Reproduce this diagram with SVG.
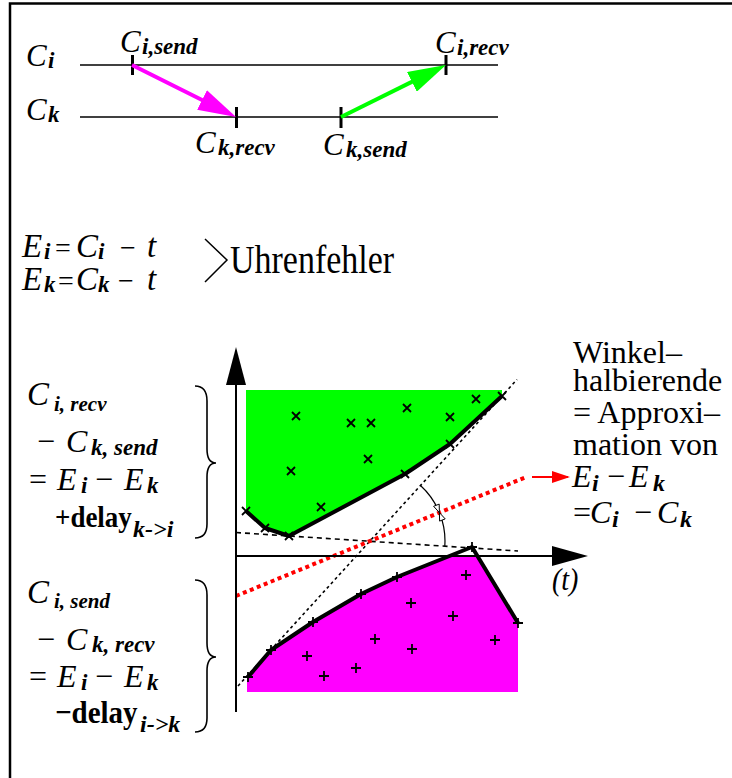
<svg xmlns="http://www.w3.org/2000/svg" width="732" height="778" viewBox="0 0 732 778">
<defs>
<style>
text{font-family:"Liberation Serif","Times New Roman",serif;fill:#000}
.it{font-style:italic}
.bi{font-style:italic;font-weight:bold}
.b{font-weight:bold}
.op{font-size:28px}
.tl{stroke:#000;stroke-width:1.6;fill:none}
.tick{stroke:#000;stroke-width:3}
.hull{fill:none;stroke:#000;stroke-width:4;stroke-linejoin:round}
.mk{fill:none;stroke:#000;stroke-width:1.8}
.dash1{fill:none;stroke:#000;stroke-width:1.6;stroke-dasharray:5 4}
.dash2{fill:none;stroke:#000;stroke-width:1.6;stroke-dasharray:3 3}
.brace{fill:none;stroke:#000;stroke-width:1.6}
.ax{stroke:#000;stroke-width:2;fill:none}
</style>
<marker id="hm" markerUnits="userSpaceOnUse" markerWidth="38" markerHeight="22" viewBox="0 0 38 22" refX="28" refY="11" orient="auto"><path d="M0,0L38,11L0,22Z" fill="#ff00ff"/></marker>
<marker id="hg" markerUnits="userSpaceOnUse" markerWidth="38" markerHeight="22" viewBox="0 0 38 22" refX="28" refY="11" orient="auto"><path d="M0,0L38,11L0,22Z" fill="#00ff00"/></marker>
<marker id="hr" markerUnits="userSpaceOnUse" markerWidth="18" markerHeight="12" viewBox="0 0 18 12" refX="16" refY="6" orient="auto"><path d="M0,0L18,6L0,12Z" fill="#ff0000"/></marker>
<path id="x" d="M-4,-4L4,4M4,-4L-4,4"/>
<path id="p" d="M-5,0H5M0,-5V5"/>
</defs>
<rect width="732" height="778" fill="#fff"/>
<g id="frame"><path d="M10,778V3.5H732" fill="none" stroke="#000" stroke-width="2.5"/></g>

<g id="timeline-ci">
<line class="tl" x1="80" y1="65" x2="498" y2="65"/>
<text class="it" x="26" y="66" font-size="31">C<tspan class="bi" x="48" y="68" font-size="23">i</tspan></text>
</g>
<g id="timeline-ck">
<line class="tl" x1="80" y1="117" x2="498" y2="117"/>
<text class="it" x="26" y="120" font-size="31">C<tspan class="bi" x="48" y="122" font-size="23">k</tspan></text>
</g>
<g id="event-ci-send">
<line class="tick" x1="132.5" y1="55" x2="132.5" y2="75"/>
<text class="it" x="120" y="52" font-size="31">C<tspan class="bi" x="142" y="53.5" font-size="23">i,send</tspan></text>
</g>
<g id="event-ci-recv">
<line class="tick" x1="446" y1="55" x2="446" y2="75"/>
<text class="it" x="435" y="53" font-size="31">C<tspan class="bi" x="457" y="54.5" font-size="23">i,recv</tspan></text>
</g>
<g id="event-ck-recv">
<line class="tick" x1="236.5" y1="107" x2="236.5" y2="128"/>
<text class="it" x="195" y="153" font-size="31">C<tspan class="bi" x="218" y="155" font-size="23">k,recv</tspan></text>
</g>
<g id="event-ck-send">
<line class="tick" x1="341" y1="107" x2="341" y2="128"/>
<text class="it" x="323" y="155" font-size="31">C<tspan class="bi" x="346" y="157" font-size="23">k,send</tspan></text>
</g>

<g id="connectors">
<line x1="132" y1="65" x2="227.1" y2="112.5" stroke="#ff00ff" stroke-width="4" marker-end="url(#hm)"/>
<line x1="341" y1="117" x2="437" y2="69.4" stroke="#00ff00" stroke-width="4" marker-end="url(#hg)"/>
</g>

<g id="clock-error">
<text font-size="33" y="257"><tspan class="it" x="22">E</tspan><tspan class="bi" x="44" y="259" font-size="23">i</tspan><tspan class="op" x="55" y="257">=</tspan><tspan class="it" x="76">C</tspan><tspan class="bi" x="98" y="259" font-size="23">i</tspan><tspan class="op" x="120" y="257">−</tspan><tspan class="it" x="147">t</tspan></text>
<text font-size="33" y="290"><tspan class="it" x="22">E</tspan><tspan class="bi" x="44" y="292" font-size="23">k</tspan><tspan class="op" x="58" y="290">=</tspan><tspan class="it" x="76">C</tspan><tspan class="bi" x="98" y="292" font-size="23">k</tspan><tspan class="op" x="118" y="290">−</tspan><tspan class="it" x="147">t</tspan></text>
<path d="M205,239L227,260L205,282" fill="none" stroke="#000" stroke-width="1.5"/>
<text font-size="34" transform="translate(230,273) scale(1,1.15)">Uhrenfehler</text>
</g>

<g id="eq-recv">
<text class="it" x="27" y="405" font-size="33">C<tspan class="bi" x="54" y="411" font-size="21">i, recv</tspan></text>
<text font-size="32" y="452"><tspan x="37">−</tspan><tspan class="it" x="66">C</tspan><tspan class="bi" x="91" y="455" font-size="23">k, send</tspan></text>
<text font-size="32" y="490"><tspan x="29">=</tspan><tspan class="it" x="57">E</tspan><tspan class="bi" x="81" y="493" font-size="23">i</tspan><tspan x="95" y="490">−</tspan><tspan class="it" x="124">E</tspan><tspan class="bi" x="147" y="493" font-size="23">k</tspan></text>
<text class="b" font-size="27" transform="translate(55,527) scale(1,1.1)">+delay</text>
<text class="bi" font-size="24" x="133" y="537">k-&gt;i</text>
<path class="brace" d="M195,386C203,386 207,391 207,401L207,449C207,458 210,463 216,463C210,463 207,468 207,477L207,524C207,533 203,538 195,538"/>
</g>

<g id="eq-send">
<text class="it" x="27" y="603" font-size="33">C<tspan class="bi" x="54" y="608" font-size="21">i, send</tspan></text>
<text font-size="32" y="650"><tspan x="37">−</tspan><tspan class="it" x="66">C</tspan><tspan class="bi" x="92" y="652" font-size="23">k, recv</tspan></text>
<text font-size="32" y="687"><tspan x="29">=</tspan><tspan class="it" x="57">E</tspan><tspan class="bi" x="81" y="690" font-size="23">i</tspan><tspan x="95" y="687">−</tspan><tspan class="it" x="124">E</tspan><tspan class="bi" x="147" y="690" font-size="23">k</tspan></text>
<text class="b" font-size="29" transform="translate(55,723) scale(1,1.1)">−delay</text>
<text class="bi" font-size="24" x="140" y="732">i-&gt;k</text>
<path class="brace" d="M195,580C203,580 207,585 207,595L207,643C207,652 210,657 216,657C210,657 207,662 207,671L207,718C207,727 203,732 195,732"/>
</g>

<g id="plot">
<polygon points="246,390 502,390 502,396 450,444 405,474 289,535 265,528 246,511" fill="#00ff00"/>
<polygon points="247,677 271,650 313,622 361,594 397,577 447,557 478,557 518,623 518,692 247,692" fill="#ff00ff"/>
<line class="dash1" x1="236" y1="532.5" x2="518" y2="551"/>
<line class="dash2" x1="238" y1="686" x2="517" y2="379.5"/>
<line x1="236" y1="596" x2="525" y2="477.5" stroke="#ff0000" stroke-width="4" stroke-dasharray="4 3.5"/>
<line x1="532" y1="477" x2="568" y2="477" stroke="#ff0000" stroke-width="2" marker-end="url(#hr)"/>
<polyline class="hull" points="246,511 265,528 289,536 405,474 450,444 502,396"/>
<polyline class="hull" points="248,677 271,650 313,622 361,594 397,577 472,547 518,623"/>
<g class="mk">
<use href="#x" x="296" y="416"/><use href="#x" x="351" y="423"/><use href="#x" x="371" y="423"/><use href="#x" x="407" y="408"/><use href="#x" x="450" y="417"/><use href="#x" x="476" y="399"/><use href="#x" x="291" y="471"/><use href="#x" x="368" y="459"/><use href="#x" x="321" y="507"/>
<use href="#x" x="246" y="511"/><use href="#x" x="265" y="528"/><use href="#x" x="289" y="536"/><use href="#x" x="405" y="474"/><use href="#x" x="450" y="444"/><use href="#x" x="502" y="396"/>
<use href="#p" x="466" y="575"/><use href="#p" x="411" y="603"/><use href="#p" x="453" y="616"/><use href="#p" x="375" y="639"/><use href="#p" x="412" y="649"/><use href="#p" x="495" y="640"/><use href="#p" x="307" y="656"/><use href="#p" x="324" y="676"/><use href="#p" x="356" y="668"/>
<use href="#p" x="248" y="677"/><use href="#p" x="271" y="650"/><use href="#p" x="313" y="622"/><use href="#p" x="361" y="594"/><use href="#p" x="397" y="577"/><use href="#p" x="472" y="547"/><use href="#p" x="518" y="623"/>
</g>
<path d="M420.5,485.5A75,75 0 0,1 444.8,546" fill="none" stroke="#000" stroke-width="1.2"/>
<polygon points="439.4,512.6 439.2,504.1 433.6,506.3" fill="#fff" stroke="#000" stroke-width="1"/>
<polygon points="439.4,512.6 445.2,518.9 439.6,521.1" fill="#fff" stroke="#000" stroke-width="1"/>
<line class="ax" x1="236" y1="712" x2="236" y2="380"/>
<polygon points="236,347 246,385 226,385"/>
<line class="ax" x1="236" y1="556" x2="556" y2="556"/>
<polygon points="588,556 552,546 552,566"/>
<text class="it" font-size="28" transform="translate(552,590) scale(1,1.1)">(t)</text>
</g>

<g id="bisector-note">
<text font-size="32" x="573" y="363">Winkel–</text>
<text font-size="32" x="573" y="391">halbierende</text>
<text font-size="32" x="573" y="423">= Approxi–</text>
<text font-size="32" x="573" y="455">mation von</text>
<text font-size="32" y="487"><tspan class="it" x="572">E</tspan><tspan class="bi" font-size="24" x="592" y="491">i</tspan><tspan x="607" y="487">−</tspan><tspan class="it" x="629">E</tspan><tspan class="bi" font-size="24" x="653" y="491">k</tspan></text>
<text font-size="32" y="523"><tspan x="573">=</tspan><tspan class="it" x="590">C</tspan><tspan class="bi" font-size="24" x="612" y="527">i</tspan><tspan x="634" y="523">−</tspan><tspan class="it" x="657">C</tspan><tspan class="bi" font-size="24" x="680" y="527">k</tspan></text>
</g>
</svg>
